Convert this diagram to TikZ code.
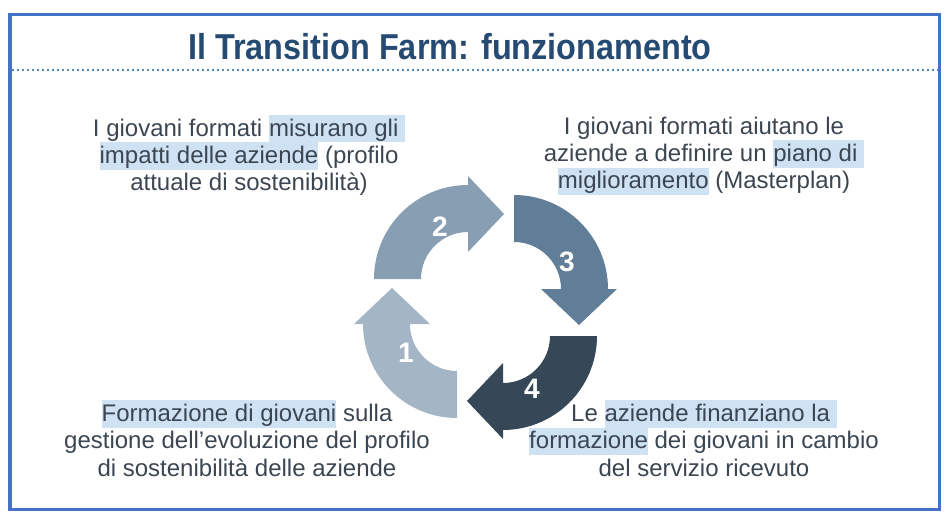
\documentclass[tikz,border=0pt]{standalone}
\usepackage{fontspec}
\setmainfont{Liberation Sans}
\usetikzlibrary{calc}
\definecolor{frameblue}{HTML}{4472C4}
\definecolor{dotblue}{HTML}{4F89B3}
\definecolor{titleblue}{HTML}{264B73}
\definecolor{textgrey}{HTML}{3B4652}
\definecolor{hlblue}{HTML}{CFE2F3}
\definecolor{arrowA}{HTML}{A4B5C6}
\definecolor{arrowB}{HTML}{889FB3}
\definecolor{arrowC}{HTML}{607E98}
\definecolor{arrowD}{HTML}{364857}
\newcommand{\hlword}[1]{{\setlength{\fboxsep}{0pt}\colorbox{hlblue}{\rule[-3.6pt]{0pt}{15.6pt}#1}}}
\newcommand{\cyclearrow}[4]{%
\fill [#4] ($#1+(#2:94)$) arc [start angle=#2,end angle=#3,radius=94]
  -- ($#1+(#3:103)$) -- ($#1+(#3:65)+(#3-90:36)$) -- ($#1+(#3:27)$)
  -- ($#1+(#3:47)$) arc [start angle=#3,end angle=#2,radius=47] -- cycle;}
\begin{document}
\begin{tikzpicture}[x=0.02cm,y=0.02cm,
  stepnote/.style={text=textgrey,align=center,inner sep=0pt,
    font=\fontsize{13.66pt}{15.6pt}\selectfont},
  stepnum/.style={text=white,inner sep=0pt,font=\fontsize{16pt}{18pt}\selectfont\bfseries}]
\useasboundingbox (0,0) rectangle (951,525);
\draw [frameblue,line width=0.07cm] (10,510.5) rectangle (939.5,15.5);
\draw [dotblue,line width=0.04cm,dash pattern=on 0.04cm off 0.06cm] (12,455) -- (938,455);
\node (title) [anchor=base,text=titleblue,inner sep=0pt,font=\fontsize{20.5pt}{24pt}\selectfont\bfseries]
  at (450,465) {\scalebox{0.9}[1]{Il Transition Farm: funzionamento}};
\cyclearrow{(457,201)}{-90}{-180}{arrowA}
\cyclearrow{(468,246)}{180}{90}{arrowB}
\cyclearrow{(514,236)}{90}{0}{arrowC}
\cyclearrow{(503,189)}{0}{-90}{arrowD}
\node (n1) [stepnum] at (406,172) {1};
\node (n2) [stepnum] at (440,298) {2};
\node (n3) [stepnum] at (567,263) {3};
\node (n4) [stepnum] at (532,136) {4};
\node (meas) [stepnote] at (249,369.5) {I giovani formati \hlword{misurano gli\ }\\
  \hlword{impatti delle aziende} (profilo\\ attuale di sostenibilità)};
\node (plan) [stepnote] at (704,369) {I giovani formati aiutano le\\
  aziende a definire un \hlword{piano di\ }\\ \hlword{miglioramento} (Masterplan)};
\node (train) [stepnote] at (247,86.5) {\hlword{Formazione di giovani} sulla\\
  gestione dell’evoluzione del profilo\\ di sostenibilità delle aziende};
\node (fund) [stepnote] at (704,86.5) {Le \hlword{aziende finanziano la\ }\\
  \hlword{formazione} dei giovani in cambio\\ del servizio ricevuto};
\end{tikzpicture}
\end{document}
